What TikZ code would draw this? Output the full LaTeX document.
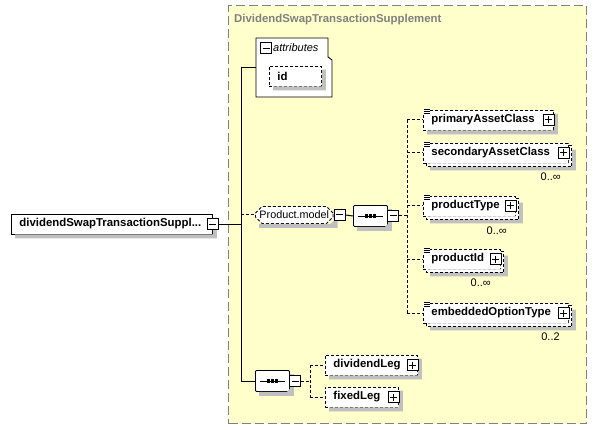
\documentclass[tikz,border=0pt]{standalone}
\usepackage{fontspec}
\setmainfont{Liberation Sans}
\usetikzlibrary{shapes.misc}

\definecolor{grpfill}{RGB}{255,255,204}
\definecolor{grpline}{RGB}{128,128,128}
\definecolor{shadowgray}{RGB}{192,192,192}

\newcommand{\elemfont}{\fontsize{11.4}{13}\selectfont\bfseries}
\newcommand{\modelfont}{\fontsize{10.8}{13}\selectfont}
\newcommand{\multfont}{\fontsize{11}{13}\selectfont}

\tikzset{
  elem/.style={draw, fill=white, anchor=west, align=left, inner xsep=8pt, inner ysep=0pt,
    minimum height=20pt, font=\elemfont, line width=0.9pt},
  opt/.style={dash pattern=on 3pt off 2pt},
  model/.style={chamfered rectangle, chamfered rectangle xsep=3pt, draw, fill=white, anchor=west,
    inner xsep=1pt, inner ysep=0pt, minimum height=17pt, font=\modelfont, line width=0.9pt},
  seqshape/.style={model, chamfered rectangle xsep=4pt, minimum width=34pt, minimum height=21pt},
  pmbox/.style={draw, fill=white, minimum size=11pt, inner sep=0pt, line width=1pt},
  minus/.style={pmbox, path picture={
      \draw[line width=1pt] ([xshift=2pt]path picture bounding box.west) -- ([xshift=-2pt]path picture bounding box.east);}},
  plus/.style={pmbox, path picture={
      \draw[line width=1pt] ([xshift=2pt]path picture bounding box.west) -- ([xshift=-2pt]path picture bounding box.east);
      \draw[line width=1pt] ([yshift=2pt]path picture bounding box.south) -- ([yshift=-2pt]path picture bounding box.north);}},
  mult/.style={font=\multfont, inner sep=0pt, anchor=north east},
  link/.style={line width=1pt},
  optlink/.style={line width=1pt, dash pattern=on 3pt off 2pt}
}

\begin{document}
\begin{tikzpicture}[x=1pt, y=-1pt]
\useasboundingbox (0,0) rectangle (596,430);

% group box
\node[draw=grpline, fill=grpfill, line width=1.3pt, dash pattern=on 9pt off 4pt,
  minimum width=358pt, minimum height=418pt, anchor=north west, inner sep=0pt] (grp) at (228,5) {};
\node[font=\elemfont, text=grpline, anchor=base west, inner sep=0pt] (grptitle) at (234,23) {DividendSwapTransactionSupplement};

% attributes
\draw[fill=white, line width=0.9pt] (256,97) -- (256,38) -- (328,38) -- (328,57) -- (332,60) -- (332,97) -- cycle;
\coordinate (attrin) at (256,68);
\node[font=\fontsize{11}{13}\selectfont\itshape, anchor=west, inner sep=0pt] (attrlbl) at (273,48) {attributes};
\node[elem, opt, text width=36pt] (id) at (269,76) {id};

% elements
\node[elem, text width=185pt] (root) at (11,224) {dividendSwapTransactionSuppl...};
\node[model, opt] (pmod) at (255,215) {Product.model};
\node[seqshape] (seqa) at (353,216) {};
\node[elem, opt, text width=114pt] (pac) at (423,120) {primaryAssetClass};
\node[elem, opt, text width=129pt] (sac) at (423,153) {secondaryAssetClass};
\node[elem, opt, text width=76pt] (ptype) at (423,206) {productType};
\node[elem, opt, text width=61pt] (pid) at (423,259) {productId};
\node[elem, opt, text width=129pt] (eot) at (423,313) {embeddedOptionType};
\node[seqshape] (seqb) at (255,381) {};
\node[elem, opt, text width=76pt] (divleg) at (325,365) {dividendLeg};
\node[elem, opt, text width=57pt] (fixleg) at (325,397) {fixedLeg};

% shadows
\foreach \n in {root,id,pac,divleg,fixleg}
  \fill[shadowgray] ([shift={(0,4)}]\n.north east) -- ([shift={(4,4)}]\n.north east)
    -- ([shift={(4,4)}]\n.south east) -- ([shift={(4,4)}]\n.south west)
    -- ([shift={(4,0)}]\n.south west) -- (\n.south east) -- cycle;
\foreach \s in {pmod,seqa,seqb} {
  \coordinate (\s ne) at (\s.east |- \s.north);
  \coordinate (\s se) at (\s.east |- \s.south);
  \coordinate (\s sw) at (\s.west |- \s.south);
  \fill[shadowgray] ([shift={(0,4)}]\s ne) -- ([shift={(4,4)}]\s ne) -- ([shift={(4,4)}]\s se)
    -- ([shift={(4,4)}]\s sw) -- ([shift={(4,0)}]\s sw) -- ([shift={(-3,0)}]\s se)
    -- ([shift={(0,-3)}]\s se) -- cycle;
}
% stacked copies of repeating elements
\foreach \n in {sac,ptype,pid,eot} {
  \fill[shadowgray] ([shift={(0,7)}]\n.north east) -- ([shift={(7,7)}]\n.north east)
    -- ([shift={(7,7)}]\n.south east) -- ([shift={(7,7)}]\n.south west)
    -- ([shift={(7,0)}]\n.south west) -- (\n.south east) -- cycle;
  \fill[white] ([shift={(0,3)}]\n.north east) -- ([shift={(3,3)}]\n.north east)
    -- ([shift={(3,3)}]\n.south east) -- ([shift={(3,3)}]\n.south west)
    -- ([shift={(3,0)}]\n.south west) -- (\n.south east) -- cycle;
  \draw[optlink, line width=0.9pt] ([shift={(0,3)}]\n.north east) -- ([shift={(3,3)}]\n.north east)
    -- ([shift={(3,3)}]\n.south east) -- ([shift={(3,3)}]\n.south west) -- ([shift={(3,0)}]\n.south west);
}

% expand boxes
\node[minus] (attrm) at (266,48.5) {};
\node[minus] (rootm) at (root.east) {};
\node[minus] (pmodm) at ([shift={(6,0)}]pmod.east) {};
\node[minus] (seqam) at ([shift={(5.5,0)}]seqa.east) {};
\node[minus] (seqbm) at ([shift={(5.5,0)}]seqb.east) {};
\foreach \n in {pac,sac,ptype,pid,eot,divleg,fixleg}
  \node[plus] (\n p) at ([shift={(-5,0)}]\n.east) {};

% type icons
\foreach \n in {pac,sac,ptype,pid,eot} {
  \fill[white] ([shift={(-0.5,-1)}]\n.north west) rectangle ([shift={(7,5)}]\n.north west);
  \foreach \dy in {0,2,4}
    \draw[line width=0.7pt] ([shift={(0.5,\dy)}]\n.north west) -- ([shift={(6.5,\dy)}]\n.north west);
}

% occurrences
\node[mult] (sacmul) at ([shift={(-8,9)}]sac.south east) {0..∞};
\node[mult] (ptypemul) at ([shift={(-9,10)}]ptype.south east) {0..∞};
\node[mult] (pidmul) at ([shift={(-10,9)}]pid.south east) {0..∞};
\node[mult] (eotmul) at ([shift={(-9,9)}]eot.south east) {0..2};

% sequence symbols
\foreach \s in {seqa,seqb} {
  \draw[line width=0.9pt] ([xshift=5pt]\s.west) -- ([xshift=-5pt]\s.east);
  \foreach \dx in {-3.8,0,3.8}
    \fill ([shift={(\dx-1.4,-1.6)}]\s.center) rectangle ([shift={(\dx+1.4,1.6)}]\s.center);
}

% connectors
\coordinate (busl) at (241,0);
\coordinate (busa) at (407,0);
\coordinate (busb) at (310,0);
\draw[link] (rootm.east) -- (rootm.east -| busl);
\draw[link] (attrin) -- (attrin -| busl) -- (busl |- seqb.west) -- (seqb.west);
\draw[optlink] (busl |- pmod.west) -- (pmod.west);
\draw[link] (pmodm.east) -- (seqa.west);
\draw[optlink] (seqam.east) -- (seqam.east -| busa);
\draw[optlink] (pac.west -| busa) -- (eot.west -| busa);
\foreach \n in {pac,sac,ptype,pid,eot}
  \draw[optlink] (\n.west -| busa) -- (\n.west);
\draw[optlink] (seqbm.east) -- (seqbm.east -| busb);
\draw[optlink] (divleg.west -| busb) -- (fixleg.west -| busb);
\draw[optlink] (divleg.west -| busb) -- (divleg.west);
\draw[optlink] (fixleg.west -| busb) -- (fixleg.west);
\end{tikzpicture}
\end{document}
